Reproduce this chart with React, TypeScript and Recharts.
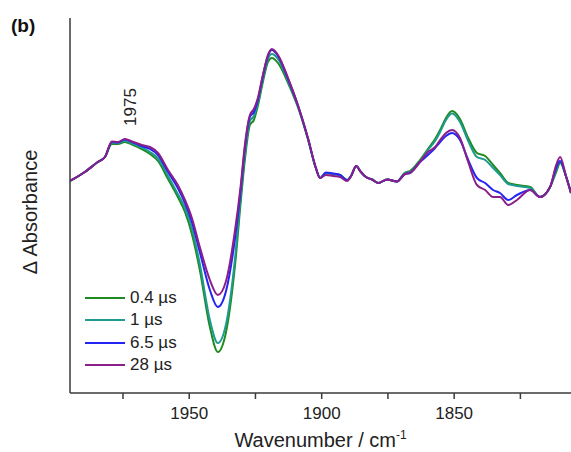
import { LineChart, Line, XAxis, YAxis, Legend, ReferenceDot, Label } from 'recharts'

// wavenumber (cm-1)
const wavenumbers = [
  1995.0, 1989.4, 1984.5, 1981.8, 1979.2, 1976.9, 1974.3, 1971.6, 1967.9, 1964.8,
  1961.8, 1958.0, 1954.3, 1951.6, 1949.0, 1946.0, 1942.2, 1939.2, 1936.1, 1932.7,
  1930.5, 1929.0, 1927.1, 1925.6, 1924.1, 1922.2, 1920.3, 1918.8, 1916.5, 1912.7,
  1909.0, 1905.2, 1902.2, 1900.6, 1898.4, 1895.7, 1893.1, 1890.4, 1888.9, 1887.0,
  1885.2, 1883.3, 1881.0, 1878.7, 1875.3, 1871.6, 1868.5, 1866.7, 1862.9, 1859.9,
  1857.2, 1855.3, 1853.1, 1850.8, 1847.8, 1844.7, 1841.4, 1838.3, 1835.3, 1832.7,
  1829.6, 1826.3, 1821.3, 1817.6, 1813.8, 1811.5, 1810.0, 1807.7, 1805.9,
]

// delta absorbance, arbitrary units
const s04 = [
  0, 0.09, 0.19, 0.24, 0.37, 0.37, 0.39, 0.365, 0.32, 0.27,
  0.20, 0.02, -0.16, -0.31, -0.53, -0.89, -1.46, -1.71, -1.51, -0.84,
  -0.19, 0.21, 0.56, 0.61, 0.75, 0.99, 1.19, 1.23, 1.18, 0.98,
  0.74, 0.42, 0.13, 0.03, 0.08, 0.07, 0.06, 0.01, 0.05, 0.15,
  0.09, 0.04, 0.015, -0.02, 0.015, -0.005, 0.085, 0.10, 0.21, 0.32,
  0.42, 0.51, 0.63, 0.70, 0.62, 0.43, 0.28, 0.25, 0.16, 0.08,
  -0.02, -0.04, -0.06, -0.16, -0.06, 0.09, 0.18, 0.04, -0.12,
]
const s1 = [
  0, 0.09, 0.19, 0.24, 0.38, 0.38, 0.40, 0.375, 0.335, 0.29,
  0.225, 0.05, -0.13, -0.27, -0.47, -0.83, -1.39, -1.62, -1.43, -0.77,
  -0.13, 0.26, 0.60, 0.65, 0.78, 1.02, 1.22, 1.27, 1.22, 1.00,
  0.75, 0.42, 0.13, 0.03, 0.08, 0.07, 0.06, 0.01, 0.05, 0.15,
  0.09, 0.04, 0.015, -0.02, 0.015, -0.005, 0.08, 0.09, 0.20, 0.31,
  0.40, 0.49, 0.61, 0.675, 0.59, 0.40, 0.24, 0.21, 0.13, 0.06,
  -0.03, -0.05, -0.07, -0.16, -0.06, 0.11, 0.19, 0.04, -0.12,
]
const s65 = [
  0, 0.09, 0.19, 0.24, 0.39, 0.385, 0.415, 0.39, 0.35, 0.32,
  0.26, 0.09, -0.07, -0.22, -0.41, -0.71, -1.09, -1.26, -1.10, -0.57,
  -0.07, 0.33, 0.64, 0.69, 0.81, 1.05, 1.25, 1.31, 1.25, 1.02,
  0.76, 0.43, 0.13, 0.03, 0.085, 0.075, 0.06, 0.01, 0.05, 0.15,
  0.09, 0.04, 0.015, -0.02, 0.015, -0.005, 0.07, 0.08, 0.19, 0.26,
  0.33, 0.39, 0.45, 0.48, 0.41, 0.21, 0.03, -0.02, -0.09, -0.12,
  -0.19, -0.14, -0.09, -0.16, -0.06, 0.13, 0.20, 0.04, -0.12,
]
const s28 = [
  0, 0.09, 0.19, 0.24, 0.395, 0.39, 0.42, 0.395, 0.36, 0.34,
  0.28, 0.11, -0.04, -0.19, -0.37, -0.66, -0.99, -1.14, -1.00, -0.49,
  -0.03, 0.36, 0.66, 0.72, 0.83, 1.06, 1.26, 1.32, 1.26, 1.03,
  0.76, 0.43, 0.13, 0.03, 0.06, 0.05, 0.04, 0.00, 0.05, 0.15,
  0.09, 0.04, 0.015, -0.02, 0.015, -0.005, 0.07, 0.08, 0.19, 0.29,
  0.34, 0.41, 0.48, 0.51, 0.43, 0.19, -0.04, -0.09, -0.16, -0.16,
  -0.24, -0.19, -0.09, -0.16, -0.06, 0.16, 0.24, 0.04, -0.12,
]

const xTicks = [1975, 1950, 1925, 1900, 1875, 1850, 1825]

const SERIES = [
  { key: 's04', name: '0.4 µs', color: '#1f8a1f' },
  { key: 's1', name: '1 µs', color: '#1f9a8e' },
  { key: 's65', name: '6.5 µs', color: '#2424f5' },
  { key: 's28', name: '28 µs', color: '#8a1f8a' },
]

const data = wavenumbers.map((wn, i) => ({
  wn, s04: s04[i], s1: s1[i], s65: s65[i], s28: s28[i],
}))

const FONT = '"Liberation Sans", Arial, sans-serif'
const AXIS = '#3a3a3a'

// legend keeps the series order (recharts sorts the payload by name)
function LegendBox() {
  return (
    <div style={{ fontFamily: FONT, fontSize: 17, color: '#222', lineHeight: '22.3px' }}>
      {SERIES.map(s => (
        <div key={s.key} style={{ display: 'flex', alignItems: 'center' }}>
          <span style={{ display: 'inline-block', width: 40, height: 2, background: s.color, marginRight: 5 }} />
          {s.name}
        </div>
      ))}
    </div>
  )
}

export default function App() {
  return (
    <div style={{ position: 'absolute', left: 0, top: 0, width: 571, height: 452, background: '#fff' }}>
      <div style={{ position: 'absolute', left: 11, top: 15, fontFamily: FONT, fontSize: 19, fontWeight: 'bold', color: '#111' }}>
        (b)
      </div>
      <LineChart width={571} height={452} data={data} margin={{ top: 18, right: 0, left: 0, bottom: 0 }}>
        <XAxis
          dataKey="wn"
          type="number"
          domain={[1805.9, 1995]}
          reversed
          allowDataOverflow
          ticks={xTicks}
          tickFormatter={(v: number) => (v % 50 === 0 ? String(v) : '')}
          height={59}
          tickSize={6}
          tickMargin={8}
          axisLine={{ stroke: AXIS, strokeWidth: 1.5 }}
          tickLine={{ stroke: AXIS, strokeWidth: 1.5 }}
          tick={{ fill: '#222', fontSize: 17, fontFamily: FONT }}
        >
          <Label
            content={({ viewBox }: any) => (
              <text x={viewBox.x + viewBox.width / 2} y={447} textAnchor="middle" fill="#222" fontSize={20} fontFamily={FONT}>
                Wavenumber / cm<tspan dy={-8} fontSize={12}>-1</tspan>
              </text>
            )}
          />
        </XAxis>
        <YAxis
          type="number"
          domain={[-2.12, 1.63]}
          allowDataOverflow
          width={70}
          tick={false}
          tickLine={false}
          axisLine={{ stroke: AXIS, strokeWidth: 1.5 }}
        >
          <Label
            content={() => (
              <text x={37} y={212} transform="rotate(-90 37 212)" textAnchor="middle" fill="#222" fontSize={20} fontFamily={FONT}>
                Δ Absorbance
              </text>
            )}
          />
        </YAxis>
        {SERIES.map(s => (
          <Line
            key={s.key}
            dataKey={s.key}
            name={s.name}
            type="monotone"
            stroke={s.color}
            strokeWidth={2}
            dot={false}
            activeDot={false}
            isAnimationActive={false}
          />
        ))}
        <ReferenceDot
          x={1975}
          y={0.74}
          r={0}
          fill="none"
          stroke="none"
          label={({ viewBox }: any) => (
            <text
              x={viewBox.x + 13}
              y={viewBox.y}
              transform={`rotate(-90 ${viewBox.x + 13} ${viewBox.y})`}
              textAnchor="middle"
              fill="#222"
              fontSize={17}
              fontFamily={FONT}
            >
              1975
            </text>
          )}
        />
        <Legend
          layout="vertical"
          align="center"
          verticalAlign="middle"
          content={<LegendBox />}
          wrapperStyle={{ left: 85, top: 287, width: 'auto', height: 'auto' }}
        />
      </LineChart>
    </div>
  )
}
